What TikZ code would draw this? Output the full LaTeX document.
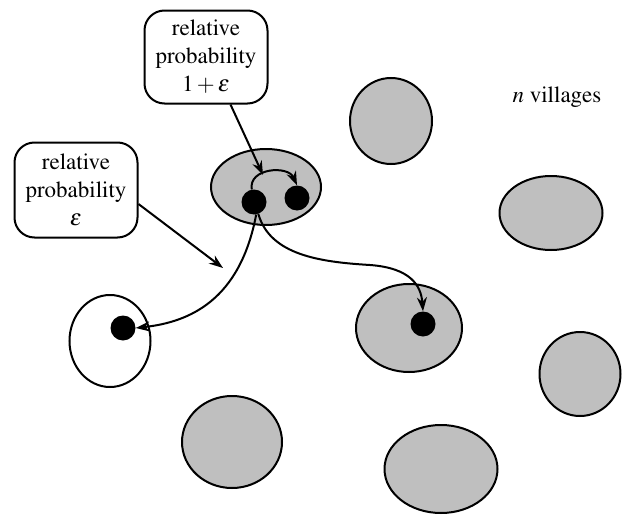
\documentclass[tikz,border=0pt]{standalone}
\usepackage[T1]{fontenc}
\usepackage{mathptmx}
\usetikzlibrary{shapes.geometric,arrows.meta}
\begin{document}
\begin{tikzpicture}[x=1pt,y=-1pt,
  village/.style={ellipse,draw,line width=2pt,fill=black!25,inner sep=0pt},
  dot/.style={circle,fill=black,inner sep=0pt,minimum size=25pt},
  lbl/.style={draw,line width=2pt,rounded corners=20pt,align=center,inner sep=0pt,
    font=\fontsize{23}{28}\selectfont},
  arr/.style={line width=2pt,-{Stealth[length=14pt,width=10pt]}}]
\useasboundingbox (0,0) rectangle (624,530);
\node[village,minimum width=82pt,minimum height=86pt] (v1) at (391,121) {};
\node[village,minimum width=110pt,minimum height=76pt] (v2) at (266,187) {};
\node[village,minimum width=103pt,minimum height=74pt] (v3) at (551,213) {};
\node[village,minimum width=106pt,minimum height=88pt] (v4) at (409,328) {};
\node[village,minimum width=81pt,minimum height=84pt] (v5) at (580,374) {};
\node[village,fill=white,minimum width=81pt,minimum height=92pt] (v6) at (110,341) {};
\node[village,minimum width=100pt,minimum height=92pt] (v7) at (232,442) {};
\node[village,minimum width=113pt,minimum height=88pt] (v8) at (441,469) {};
\node[dot] (A) at (254,202) {};
\node[dot] (B) at (297,198) {};
\node[dot] (C) at (123,328) {};
\node[dot] (D) at (423,324) {};
\node[lbl,minimum width=123pt,minimum height=93pt] (tb) at (206,57) {relative\\probability\\$1+\varepsilon$};
\node[lbl,minimum width=123pt,minimum height=95pt] (lb) at (76,190) {relative\\probability\\$\varepsilon$};
\node[font=\fontsize{23}{26}\selectfont] (nv) at (557,97) {\textit{n} villages};
\coordinate (t1) at (263,175);
\coordinate (t2) at (223,268);
\draw[arr] (tb.south east) ++(-38,0) coordinate (s1) -- (t1);
\draw[arr] (lb.east) ++(0,14) coordinate (s2) -- (t2);
\draw[arr] (A.100) .. controls (248,168) and (288,165) .. (B.north);
\draw[arr] (A.-80) .. controls (240,300) and (190,322) .. (C.east);
\draw[arr] (A.-70) .. controls (270,255) and (320,262) .. (370,265) .. controls (410,268) and (421,285) .. (D.north);
\end{tikzpicture}
\end{document}
